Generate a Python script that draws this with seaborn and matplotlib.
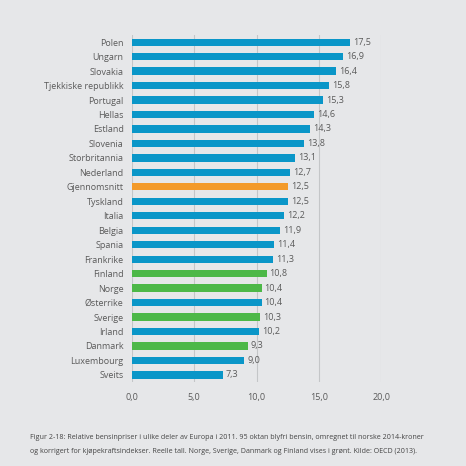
import pandas as pd
import seaborn as sns
import matplotlib.pyplot as plt

countries = ['Polen', 'Ungarn', 'Slovakia', 'Tjekkiske republikk', 'Portugal', 'Hellas',
             'Estland', 'Slovenia', 'Storbritannia', 'Nederland', 'Gjennomsnitt', 'Tyskland',
             'Italia', 'Belgia', 'Spania', 'Frankrike', 'Finland', 'Norge', 'Østerrike',
             'Sverige', 'Irland', 'Danmark', 'Luxembourg', 'Sveits']
prices = [17.5, 16.9, 16.4, 15.8, 15.3, 14.6, 14.3, 13.8, 13.1, 12.7, 12.5, 12.5,
          12.2, 11.9, 11.4, 11.3, 10.8, 10.4, 10.4, 10.3, 10.2, 9.3, 9.0, 7.3]
groups = ['other'] * 10 + ['avg'] + ['other'] * 5 + ['nordic', 'nordic', 'other',
          'nordic', 'other', 'nordic', 'other', 'other']

palette = {'other': '#0a96c8', 'avg': '#f39a2a', 'nordic': '#4db848'}

df = pd.DataFrame({'country': countries, 'price': prices, 'group': groups})

bg = '#e6e7e9'
txt = '#5a5a5a'
plt.rcParams['font.family'] = ['Open Sans', 'DejaVu Sans']

fig = plt.figure(figsize=(4.66, 4.66), dpi=100, facecolor=bg)
ax = fig.add_axes([0.283, 0.18, 0.535, 0.745], facecolor=bg)

sns.barplot(data=df, y='country', x='price', hue='group', palette=palette,
            saturation=1, dodge=False, width=0.5, legend=False, ax=ax, zorder=3)

for i, v in enumerate(prices):
    ax.text(v + 0.25, i, f'{v:.1f}'.replace('.', ','), va='center', ha='left',
            fontsize=6.5, color=txt)

ax.set_xlim(0, 20)
ax.set_ylim(len(countries) - 0.5, -0.5)
ax.set_xticks([0, 5, 10, 15, 20])
ax.set_xticklabels(['0,0', '5,0', '10,0', '15,0', '20,0'])
ax.grid(axis='x', color='#c4c6c8', linewidth=0.8, zorder=0)
ax.grid(axis='y', visible=False)
for s in ax.spines.values():
    s.set_visible(False)
ax.tick_params(axis='both', length=0, labelsize=6.5, colors=txt)
ax.tick_params(axis='y', pad=6)
ax.tick_params(axis='x', pad=8)
ax.set_xlabel('')
ax.set_ylabel('')

caption = ['Figur 2-18: Relative bensinpriser i ulike deler av Europa i 2011. 95 oktan blyfri bensin, omregnet til norske 2014-kroner',
           'og korrigert for kjøpekraftsindekser. Reelle tall. Norge, Sverige, Danmark og Finland vises i grønt. Kilde: OECD (2013).']
fig.text(0.064, 0.062, caption[0], fontsize=5.1, color='#444444', va='center')
fig.text(0.064, 0.032, caption[1], fontsize=5.1, color='#444444', va='center')

fig.savefig('out.png', dpi=100, facecolor=bg)
